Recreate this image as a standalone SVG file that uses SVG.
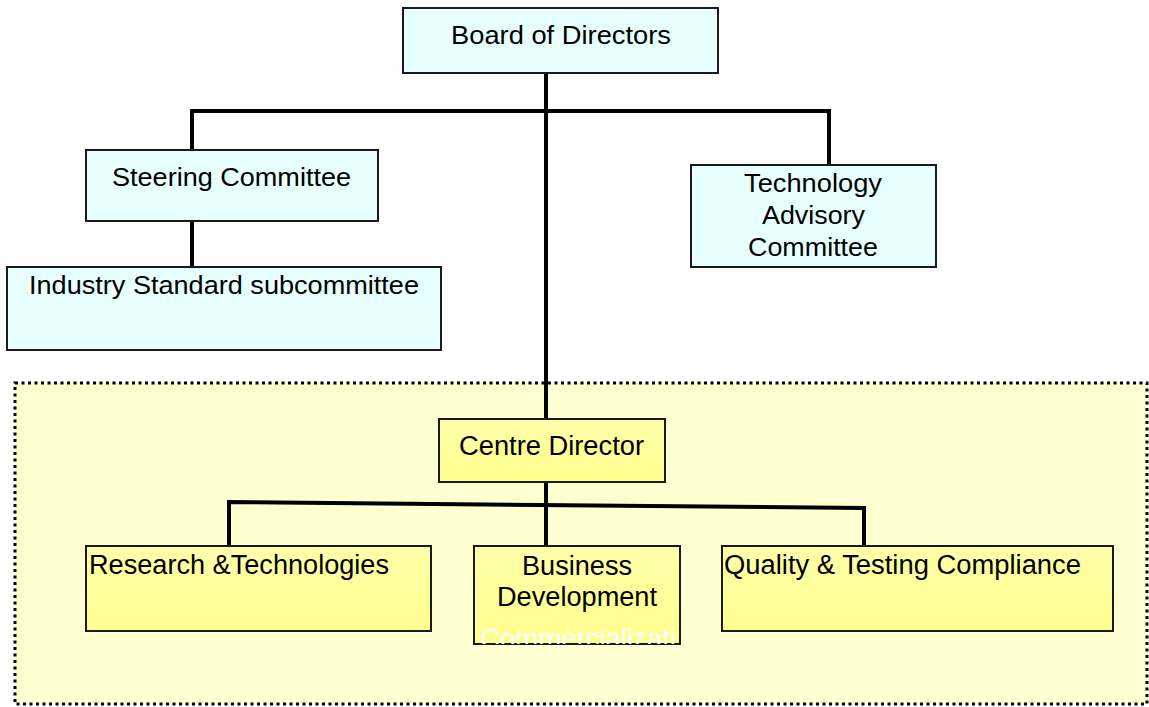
<svg xmlns="http://www.w3.org/2000/svg" width="1149" height="707" viewBox="0 0 1149 707">
<defs>
<linearGradient id="yg" x1="0" y1="0" x2="0" y2="1">
<stop offset="0" stop-color="#FFFFAA"/>
<stop offset="1" stop-color="#FFFF8E"/>
</linearGradient>
<clipPath id="bdclip"><rect x="475" y="547" width="204" height="97"/></clipPath>
</defs>
<style>
text{font-family:"Liberation Sans",Arial,sans-serif;font-size:26px;fill:#000;}
.low{font-size:27px;}
.blue{fill:#E8FFFF;stroke:#1a1a1a;stroke-width:2;}
.yel{fill:url(#yg);stroke:#1a1a1a;stroke-width:2;}
.conn{fill:none;stroke:#000;stroke-width:4;stroke-linejoin:miter;}
.white{fill:#FFFFFF;}
</style>
<rect id="region" x="15" y="383" width="1132" height="321" fill="#FFFFD2" stroke="#000" stroke-width="3" stroke-dasharray="3 3.5"/>
<g id="connectors">
<line class="conn" x1="546" y1="73" x2="546" y2="419"/>
<polyline class="conn" points="192,150 192,111 829,111 829,165"/>
<line class="conn" x1="192" y1="221" x2="192" y2="267"/>
<line class="conn" x1="546" y1="482" x2="546" y2="546"/>
<polyline class="conn" points="229,546 229,502 864,508 864,546"/>
</g>
<g id="board">
<rect class="blue" x="403" y="8" width="315" height="65"/>
<text x="451" y="44" textLength="220" lengthAdjust="spacingAndGlyphs">Board of Directors</text>
</g>
<g id="steering">
<rect class="blue" x="86" y="150" width="292" height="71"/>
<text x="112" y="186" textLength="239" lengthAdjust="spacingAndGlyphs">Steering Committee</text>
</g>
<g id="industry">
<rect class="blue" x="7" y="267" width="434" height="83"/>
<text x="29" y="294" textLength="390" lengthAdjust="spacingAndGlyphs">Industry Standard subcommittee</text>
</g>
<g id="tech">
<rect class="blue" x="691" y="165" width="245" height="102"/>
<text x="744" y="192" textLength="138" lengthAdjust="spacingAndGlyphs">Technology</text>
<text x="762" y="224" textLength="103" lengthAdjust="spacingAndGlyphs">Advisory</text>
<text x="748" y="256" textLength="130" lengthAdjust="spacingAndGlyphs">Committee</text>
</g>
<g id="centre">
<rect class="yel" x="439" y="419" width="226" height="63"/>
<text class="low" x="459" y="455" textLength="185" lengthAdjust="spacingAndGlyphs">Centre Director</text>
</g>
<g id="research">
<rect class="yel" x="86" y="546" width="345" height="85"/>
<text class="low" x="89" y="574" textLength="300" lengthAdjust="spacingAndGlyphs">Research &amp;Technologies</text>
</g>
<g id="business">
<rect class="yel" x="474" y="546" width="206" height="98"/>
<text class="low" x="522" y="575" textLength="110" lengthAdjust="spacingAndGlyphs">Business</text>
<text class="low" x="497" y="606" textLength="160" lengthAdjust="spacingAndGlyphs">Development</text>
<g clip-path="url(#bdclip)">
<text class="white low" x="480" y="648" textLength="196" lengthAdjust="spacingAndGlyphs">Commercializati</text>
</g>
</g>
<g id="quality">
<rect class="yel" x="722" y="546" width="391" height="85"/>
<text class="low" x="724" y="574" textLength="357" lengthAdjust="spacingAndGlyphs">Quality &amp; Testing Compliance</text>
</g>
</svg>
